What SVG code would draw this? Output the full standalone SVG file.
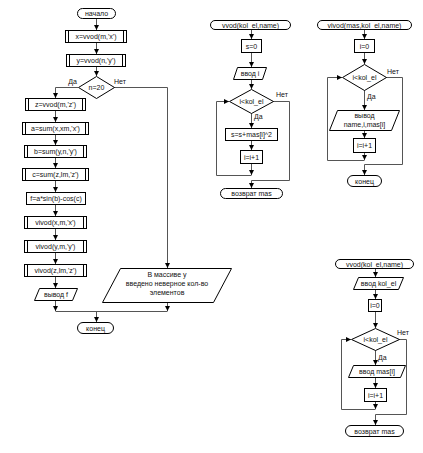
<svg xmlns="http://www.w3.org/2000/svg" width="423" height="453" viewBox="0 0 423 453">
<defs>
<marker id="ah" viewBox="0 0 6 6" refX="6" refY="3" markerWidth="5" markerHeight="5" orient="auto" markerUnits="userSpaceOnUse"><path d="M0,0 L6,3 L0,6 z" fill="#000"/></marker>
<style>
.s{fill:#fff;stroke:#000;stroke-width:1}
.b{fill:none;stroke:#000;stroke-width:1}
.c{fill:none;stroke:#555;stroke-width:1}
.a{fill:none;stroke:#555;stroke-width:1;marker-end:url(#ah)}
text{font-family:"Liberation Sans",Arial,sans-serif;font-size:7px;fill:#111;text-anchor:middle}
.l{text-anchor:start}
.r{text-anchor:end}
</style>
</defs>
<rect width="423" height="453" fill="#fff"/>
<g id="connectors">
<!-- main -->
<path class="a" d="M96.5,18 V30"/>
<path class="a" d="M96.5,42 V54"/>
<path class="a" d="M96.5,66 V76"/>
<path class="a" d="M78,87.5 H55.5 V98"/>
<path class="a" d="M114,87.5 H167.5 V268"/>
<path class="a" d="M55.5,110 V122"/>
<path class="a" d="M55.5,134 V145"/>
<path class="a" d="M55.5,157 V168"/>
<path class="a" d="M55.5,180 V192"/>
<path class="a" d="M55.5,204 V216"/>
<path class="a" d="M55.5,228 V240"/>
<path class="a" d="M55.5,252 V264"/>
<path class="a" d="M55.5,276 V288"/>
<path class="a" d="M55.5,300 V311"/>
<path class="a" d="M167.5,302 V311"/>
<path class="c" d="M55.5,311.5 H167.5"/>
<path class="a" d="M96.5,311.5 V322"/>
<!-- sub 1 -->
<path class="a" d="M251.5,29 V39"/>
<path class="a" d="M251.5,52 V67"/>
<path class="a" d="M251.5,79 V89"/>
<path class="a" d="M251.5,113 V128"/>
<path class="a" d="M251.5,140 V150"/>
<path class="a" d="M251.5,163 V175"/>
<path class="a" d="M251.5,175.5 H216.5 V101.5 H229"/>
<path class="c" d="M273,101.5 H289.5 V180.5 H251.5"/>
<path class="a" d="M251.5,180.5 V188"/>
<!-- sub 2 -->
<path class="a" d="M364.5,29 V39"/>
<path class="a" d="M364.5,52 V64"/>
<path class="a" d="M364.5,90 V110"/>
<path class="a" d="M364.5,130 V138"/>
<path class="a" d="M364.5,152 V160"/>
<path class="a" d="M364.5,160.5 H327.5 V77.5 H342"/>
<path class="c" d="M386,77.5 H402.5 V164.5 H364.5"/>
<path class="a" d="M364.5,164.5 V175"/>
<!-- sub 3 -->
<path class="a" d="M375.5,268 V277"/>
<path class="a" d="M375.5,289 V299"/>
<path class="a" d="M375.5,311 V328"/>
<path class="a" d="M375.5,350 V365"/>
<path class="a" d="M375.5,377 V388"/>
<path class="a" d="M375.5,401 V409"/>
<path class="a" d="M375.5,409.5 H341.5 V339.5 H351"/>
<path class="c" d="M399,339.5 H406.5 V414.5 H375.5"/>
<path class="a" d="M375.5,414.5 V425"/>
</g>
<!-- labels -->
<g id="labels">
<text class="r" x="77" y="84">Да</text>
<text class="l" x="114" y="84">Нет</text>
<text class="l" x="276" y="97">Нет</text>
<text class="l" x="254" y="119">Да</text>
<text class="l" x="387" y="74">Нет</text>
<text class="l" x="367" y="99">Да</text>
<text class="l" x="397" y="335">Нет</text>
<text class="l" x="378" y="360">Да</text>
</g>
<!-- main flow -->
<g id="start"><rect class="s" x="77.5" y="8.5" width="38" height="10" rx="5"/><text x="96.5" y="16">начало</text></g>
<g id="xvvod"><rect class="s" x="65.5" y="30.5" width="61" height="12"/><path class="b" d="M68.5,30.5 V42.5 M123.5,30.5 V42.5"/><text x="96" y="39">x=vvod(m,'x')</text></g>
<g id="yvvod"><rect class="s" x="66.5" y="54.5" width="59" height="12"/><path class="b" d="M69.5,54.5 V66.5 M122.5,54.5 V66.5"/><text x="96" y="63">y=vvod(n,'y')</text></g>
<g id="cond"><polygon class="s" points="96.5,76.5 114.5,87.5 96.5,98.5 78.5,87.5"/><text x="96.5" y="90">n=20</text></g>
<g id="zvvod"><rect class="s" x="25.5" y="98.5" width="60" height="12"/><path class="b" d="M28.5,98.5 V110.5 M82.5,98.5 V110.5"/><text x="55.5" y="107">z=vvod(m,'z')</text></g>
<g id="asum"><rect class="s" x="22.5" y="122.5" width="66" height="12"/><path class="b" d="M25.5,122.5 V134.5 M85.5,122.5 V134.5"/><text x="55.5" y="131">a=sum(x,xm,'x')</text></g>
<g id="bsum"><rect class="s" x="24.5" y="145.5" width="62" height="12"/><path class="b" d="M27.5,145.5 V157.5 M83.5,145.5 V157.5"/><text x="55.5" y="154">b=sum(y,n,'y')</text></g>
<g id="csum"><rect class="s" x="22.5" y="168.5" width="66" height="12"/><path class="b" d="M25.5,168.5 V180.5 M85.5,168.5 V180.5"/><text x="55.5" y="177">c=sum(z,lm,'z')</text></g>
<g id="fcalc"><rect class="s" x="26.5" y="192.5" width="59" height="12"/><text x="56" y="201">f=a*sin(b)-cos(c)</text></g>
<g id="vivodx"><rect class="s" x="24.5" y="216.5" width="62" height="12"/><path class="b" d="M27.5,216.5 V228.5 M83.5,216.5 V228.5"/><text x="55.5" y="225">vivod(x,m,'x')</text></g>
<g id="vivody"><rect class="s" x="24.5" y="240.5" width="62" height="12"/><path class="b" d="M27.5,240.5 V252.5 M83.5,240.5 V252.5"/><text x="55.5" y="249">vivod(y,m,'y')</text></g>
<g id="vivodz"><rect class="s" x="24.5" y="264.5" width="62" height="12"/><path class="b" d="M27.5,264.5 V276.5 M83.5,264.5 V276.5"/><text x="55.5" y="273">vivod(z,lm,'z')</text></g>
<g id="outf"><polygon class="s" points="39.5,288.5 77.5,288.5 72.5,300.5 34.5,300.5"/><text x="56" y="297">вывод f</text></g>
<g id="err"><polygon class="s" points="120.5,268.5 231.5,268.5 213.5,302.5 102.5,302.5"/><text x="167" y="277">В массиве y</text><text x="167" y="286">введено неверное кол-во</text><text x="167" y="295">элементов</text></g>
<g id="end"><rect class="s" x="77.5" y="322.5" width="36" height="11" rx="5.5"/><text x="95.5" y="330.5">конец</text></g>
<!-- sub 1 -->
<g id="s1start"><rect class="s" x="210.5" y="20.5" width="80" height="9" rx="4.5"/><text x="250.5" y="27.5">vvod(kol_el,name)</text></g>
<g id="s1s0"><rect class="s" x="241.5" y="39.5" width="20" height="13"/><text x="251.5" y="48.5">s=0</text></g>
<g id="s1in"><polygon class="s" points="237.5,67.5 266.5,67.5 262.5,79.5 233.5,79.5"/><text x="250" y="76">ввод i</text></g>
<g id="s1cond"><polygon class="s" points="251.5,89.5 273.5,101.5 251.5,113.5 229.5,101.5"/><text x="251.5" y="104">i&lt;kol_el</text></g>
<g id="s1sum"><rect class="s" x="225.5" y="128.5" width="52" height="12"/><text x="251.5" y="137">s=s+mas[i]^2</text></g>
<g id="s1inc"><rect class="s" x="240.5" y="150.5" width="22" height="13"/><text x="251.5" y="159.5">i=i+1</text></g>
<g id="s1ret"><rect class="s" x="220.5" y="188.5" width="62" height="10" rx="5"/><text x="251.5" y="196">возврат mas</text></g>
<!-- sub 2 -->
<g id="s2start"><rect class="s" x="317.5" y="20.5" width="94" height="9" rx="4.5"/><text x="364.5" y="27.5">vivod(mas,kol_el,name)</text></g>
<g id="s2i0"><rect class="s" x="354.5" y="39.5" width="20" height="13"/><text x="364.5" y="48.5">i=0</text></g>
<g id="s2cond"><polygon class="s" points="364.5,64.5 386.5,77.5 364.5,90.5 342.5,77.5"/><text x="364.5" y="80">i&lt;kol_el</text></g>
<g id="s2out"><polygon class="s" points="337.5,110.5 399.5,110.5 391.5,130.5 329.5,130.5"/><text x="364.5" y="118">вывод</text><text x="364.5" y="127">name,i,mas[i]</text></g>
<g id="s2inc"><rect class="s" x="353.5" y="138.5" width="22" height="14"/><text x="364.5" y="148">i=i+1</text></g>
<g id="s2end"><rect class="s" x="347.5" y="175.5" width="34" height="11" rx="5.5"/><text x="364.5" y="183.5">конец</text></g>
<!-- sub 3 -->
<g id="s3start"><rect class="s" x="335.5" y="259.5" width="78" height="9" rx="4.5"/><text x="374.5" y="266.5">vvod(kol_el,name)</text></g>
<g id="s3in"><polygon class="s" points="358.5,277.5 403.5,277.5 398.5,289.5 353.5,289.5"/><text x="378.5" y="286">ввод kol_el</text></g>
<g id="s3i0"><rect class="s" x="368.5" y="299.5" width="13" height="12"/><text x="375" y="308">i=0</text></g>
<g id="s3cond"><polygon class="s" points="375.5,328.5 399.5,339.5 375.5,350.5 351.5,339.5"/><text x="375.5" y="342">i&lt;kol_el</text></g>
<g id="s3in2"><polygon class="s" points="353.5,365.5 405.5,365.5 400.5,377.5 348.5,377.5"/><text x="377" y="374">ввод mas[i]</text></g>
<g id="s3inc"><rect class="s" x="364.5" y="388.5" width="22" height="13"/><text x="375.5" y="397.5">i=i+1</text></g>
<g id="s3ret"><rect class="s" x="345.5" y="425.5" width="58" height="11" rx="5.5"/><text x="374.5" y="433.5">возврат mas</text></g>
</svg>
